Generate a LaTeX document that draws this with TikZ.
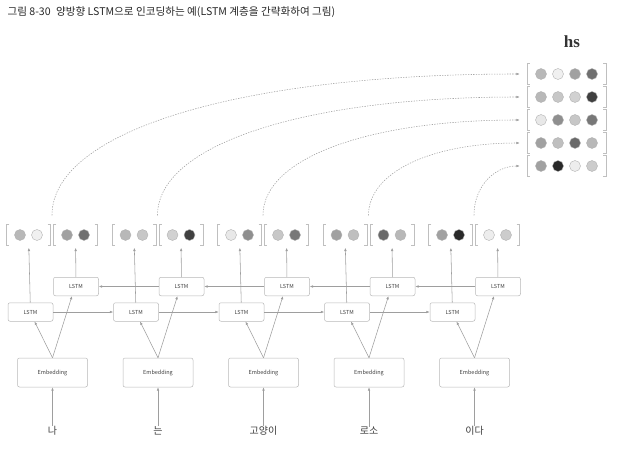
\documentclass[tikz,border=0pt]{standalone}
\usepackage{fontspec}
\setmainfont{Noto Sans CJK KR}
\newfontfamily\hsfont{Liberation Serif}
\usepackage{tikz}
\usetikzlibrary{arrows.meta,positioning,calc}

\colorlet{linegray}{black!38}
\colorlet{boxgray}{black!28}
\colorlet{txtgray}{black!75}

\begin{document}
\begin{tikzpicture}[
  x=1pt, y=-1pt,
  lstm/.style={rectangle, rounded corners=2pt, draw=boxgray, fill=white, line width=0.5pt, minimum width=45pt, minimum height=18.5pt, inner sep=0pt, font=\fontsize{5.5}{5.5}\selectfont, text=txtgray},
  embed/.style={lstm, minimum width=70pt, minimum height=29pt},
  word/.style={font=\fontsize{10}{10}\selectfont, text=txtgray},
  arrow/.style={draw=linegray, line width=0.55pt, -{Latex[length=3.4pt,width=2.6pt]}},
  link/.style={arrow, dash pattern=on 1.3pt off 1.3pt},
  vec/.style={minimum width=44pt, minimum height=21pt, inner sep=0pt},
  hrow/.style={minimum width=79pt, minimum height=21pt, inner sep=0pt},
  dot/.style={circle, draw=black!30, line width=0.4pt, minimum size=11pt, inner sep=0pt},
  brk/.style={draw=black!25, line width=0.6pt}
]
  \useasboundingbox (0,0) rectangle (618,452);

  % title and label
  \node[anchor=west, font=\fontsize{10.6}{10.6}\selectfont, text=black!85] (title) at (4,12)
    {그림 8-30\hspace{0.5em}양방향 LSTM으로 인코딩하는 예(LSTM 계층을 간략화하여 그림)};
  \node[font=\hsfont\bfseries\fontsize{17}{17}\selectfont, text=black!80] (hs) at (572,42) {hs};

  % words and embeddings
  \node[word] (w1) at (52.5,431) {나};
  \node[word] (w2) at (158,431) {는};
  \node[word] (w3) at (263.5,431) {고양이};
  \node[word] (w4) at (369,431) {로소};
  \node[word] (w5) at (474.5,431) {이다};

  \node[embed] (e1) at (52.5,372.5) {Embedding};
  \node[embed] (e2) at (158,372.5) {Embedding};
  \node[embed] (e3) at (263.5,372.5) {Embedding};
  \node[embed] (e4) at (369,372.5) {Embedding};
  \node[embed] (e5) at (474.5,372.5) {Embedding};

  % forward and backward LSTM
  \node[lstm] (f1) at (30.5,312) {LSTM};
  \node[lstm] (f2) at (136,312) {LSTM};
  \node[lstm] (f3) at (241.5,312) {LSTM};
  \node[lstm] (f4) at (347,312) {LSTM};
  \node[lstm] (f5) at (452.5,312) {LSTM};

  \node[lstm] (b1) at (76,286.5) {LSTM};
  \node[lstm] (b2) at (181.5,286.5) {LSTM};
  \node[lstm] (b3) at (287,286.5) {LSTM};
  \node[lstm] (b4) at (392.5,286.5) {LSTM};
  \node[lstm] (b5) at (498,286.5) {LSTM};

  % hidden state vectors
  \node[vec] (hf1) at (28.5,235) {};
  \node[vec] (hb1) at (75.5,235) {};
  \node[vec] (hf2) at (134,235) {};
  \node[vec] (hb2) at (181,235) {};
  \node[vec] (hf3) at (239.5,235) {};
  \node[vec] (hb3) at (286.5,235) {};
  \node[vec] (hf4) at (345,235) {};
  \node[vec] (hb4) at (392,235) {};
  \node[vec] (hf5) at (450.5,235) {};
  \node[vec] (hb5) at (497.5,235) {};

  % hs matrix rows
  \node[hrow] (r1) at (566.5,74) {};
  \node[hrow] (r2) at (566.5,97) {};
  \node[hrow] (r3) at (566.5,120) {};
  \node[hrow] (r4) at (566.5,143) {};
  \node[hrow] (r5) at (566.5,166) {};

  \foreach \v in {hf1,hb1,hf2,hb2,hf3,hb3,hf4,hb4,hf5,hb5,r1,r2,r3,r4,r5} {
    \draw[brk] ([xshift=3]\v.north west) -- (\v.north west) -- (\v.south west) -- ([xshift=3]\v.south west);
    \draw[brk] ([xshift=-3]\v.north east) -- (\v.north east) -- (\v.south east) -- ([xshift=-3]\v.south east);
  }

  \foreach \v/\ca/\cb in {hf1/28/6, hb1/37/56, hf2/28/22, hb2/18/75, hf3/9/44, hb3/22/53,
                          hf4/37/25, hb4/59/28, hf5/37/84, hb5/7/20} {
    \node[dot, fill=black!\ca] (\v a) at ($(\v)+(-8.5,0)$) {};
    \node[dot, fill=black!\cb] (\v b) at ($(\v)+(8.5,0)$) {};
  }

  \foreach \v/\ca/\cb/\cc/\cd in {r1/28/6/37/56, r2/28/22/18/75, r3/9/44/22/53,
                                  r4/37/25/59/28, r5/37/84/7/20} {
    \node[dot, fill=black!\ca] (\v a) at ($(\v)+(-25.5,0)$) {};
    \node[dot, fill=black!\cb] (\v b) at ($(\v)+(-8.5,0)$) {};
    \node[dot, fill=black!\cc] (\v c) at ($(\v)+(8.5,0)$) {};
    \node[dot, fill=black!\cd] (\v d) at ($(\v)+(25.5,0)$) {};
  }

  % connections
  \foreach \i in {1,...,5} {
    \draw[arrow, shorten <=-3pt] (w\i) -- (e\i);
    \draw[arrow] (e\i.north) -- ([xshift=4]f\i.south);
    \draw[arrow] (e\i.north) -- ([xshift=-4]b\i.south);
    \draw[arrow, shorten >=2pt] (f\i) -- (hf\i);
    \draw[arrow, shorten >=2pt] (b\i) -- (hb\i);
  }
  \foreach \i/\j in {1/2,2/3,3/4,4/5} {
    \draw[arrow] (f\i) -- (f\j);
    \draw[arrow] (b\j) -- (b\i);
  }

  % dotted links to hs
  \foreach \i in {1,...,5} {
    \coordinate (t\i) at ($(hf\i.north east)!0.5!(hb\i.north west)+(0,-9)$);
    \coordinate (k\i) at (t\i |- r\i.west);
    \draw[link, shorten >=7pt] (t\i) .. controls ($(t\i)!0.6!(k\i)$) and ($(r\i.west)!0.6!(k\i)$) .. (r\i.west);
  }
\end{tikzpicture}
\end{document}
